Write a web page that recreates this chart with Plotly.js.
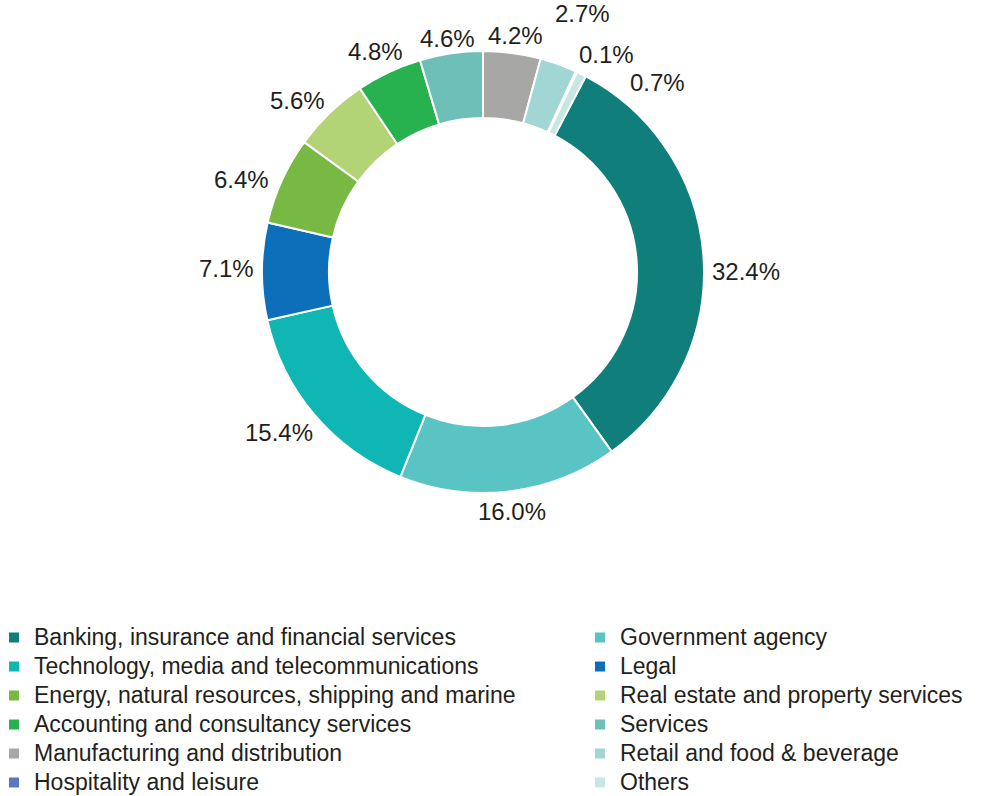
<!DOCTYPE html>
<html>
<head>
<meta charset="utf-8">
<script src="https://cdn.plot.ly/plotly-3.0.1.min.js"></script>
<style>html,body{margin:0;padding:0;background:#fff;overflow:hidden;}#chart{width:1200px;height:796px;}</style>
</head>
<body>
<div id="chart"></div>
<script>
const categories = [
  "Banking, insurance and financial services",
  "Government agency",
  "Technology, media and telecommunications",
  "Legal",
  "Energy, natural resources, shipping and marine",
  "Real estate and property services",
  "Accounting and consultancy services",
  "Services",
  "Manufacturing and distribution",
  "Retail and food & beverage",
  "Hospitality and leisure",
  "Others"
];
const shares = [32.4, 16.0, 15.4, 7.1, 6.4, 5.6, 4.8, 4.6, 4.2, 2.7, 0.1, 0.7];
const colors = ["#107e7b", "#5ac4c5", "#10b6b3", "#0d6fba", "#77b942", "#b2d476",
  "#27b14f", "#6fbfb9", "#a7a7a6", "#a2d6d4", "#5a78be", "#c8e6e6"];
const valueLabels = shares.map(v => v.toFixed(1) + "%");

// label placement: pixel nudge [right, up] of each value label from the outer edge of its slice
const labelNudge = [[43, -15], [3, -20], [-36, -18], [-36, 3], [-40, 1], [-32, 12],
  [-13, 21], [-4, 15], [3, 17], [24, 51], [30, 17], [76, -8]];

const W = 1200, H = 796, MB = 190;
const plotH = H - MB;
const R = 221, CX = 483, CY = 272;           // pixel centre / radius of the ring
const dom = {
  x: [(CX - R) / W, (CX + R) / W],
  y: [(plotH - CY - R) / plotH, (plotH - CY + R) / plotH]
};

const total = shares.reduce((a, b) => a + b, 0);
const lead = shares.slice(8).reduce((a, b) => a + b, 0);
const rotation = lead / total * 360;

const labelFont = {family: "Liberation Sans, Arial, sans-serif", size: 24, color: "#231f20"};
const annotations = [];
let cum = 0;
shares.forEach((v, i) => {
  const mid = (rotation + (cum + v / 2) / total * 360) * Math.PI / 180;
  cum += v;
  annotations.push({
    xref: "paper", yref: "paper",
    x: (CX + R * Math.sin(mid)) / W,
    y: (plotH - (CY - R * Math.cos(mid))) / plotH,
    xshift: labelNudge[i][0], yshift: labelNudge[i][1],
    text: valueLabels[i], showarrow: false,
    xanchor: "center", yanchor: "middle",
    font: labelFont
  });
});

const trace = {
  type: "pie",
  labels: categories.map(c => '<span style="font-size:23px">' + c + '</span>'),
  values: shares,
  text: valueLabels,
  textinfo: "none",
  hole: 0.697,
  sort: false,
  direction: "clockwise",
  rotation: rotation,
  marker: {colors: colors, line: {color: "#ffffff", width: 2}},
  domain: dom,
  hoverinfo: "label+text"
};

const layout = {
  width: W, height: H,
  margin: {l: 0, r: 0, t: 0, b: MB, autoexpand: false},
  paper_bgcolor: "#ffffff",
  showlegend: true,
  annotations: annotations,
  legend: {
    orientation: "h",
    x: -6 / W, xanchor: "left",
    y: -(618 - plotH) / plotH, yanchor: "top",
    entrywidth: 541, entrywidthmode: "pixels",
    font: {family: "Liberation Sans, Arial, sans-serif", size: 20, color: "#231f20"},
    traceorder: "normal",
    bgcolor: "rgba(0,0,0,0)"
  }
};

Plotly.newPlot("chart", [trace], layout, {displayModeBar: false});
</script>
</body>
</html>
